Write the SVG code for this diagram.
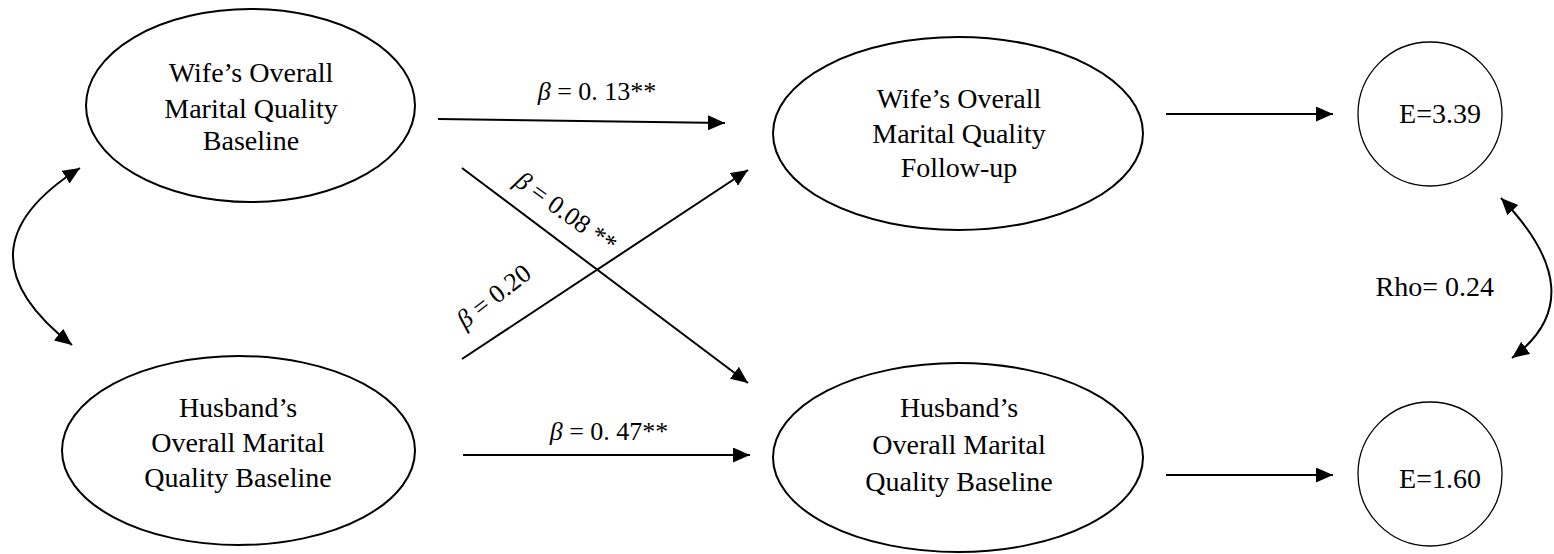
<svg xmlns="http://www.w3.org/2000/svg" width="1554" height="554" viewBox="0 0 1554 554">
<style>
  .node { fill: #fff; stroke: #000; stroke-width: 2; }
  .err { fill: #fff; stroke: #000; stroke-width: 1.3; }
  .lbl { font-family: "Liberation Serif", "DejaVu Serif", serif; font-size: 28px; fill: #000; text-anchor: middle; }
  .coef { font-family: "Liberation Serif", "DejaVu Serif", serif; font-size: 26px; fill: #000; text-anchor: middle; }
  .beta { font-style: italic; }
  .edge { fill: none; stroke: #000; stroke-width: 2; }
</style>
<defs>
  <marker id="arr" markerUnits="userSpaceOnUse" markerWidth="18" markerHeight="16" refX="17" refY="7.5" orient="auto-start-reverse">
    <path d="M0,0 L17,7.5 L0,15 z" fill="#000"/>
  </marker>
</defs>
<rect width="1554" height="554" fill="#fff"/>

<g id="connectors">
  <line class="edge" x1="438" y1="119" x2="725" y2="123" marker-end="url(#arr)"/>
  <line class="edge" x1="463" y1="455" x2="750" y2="455" marker-end="url(#arr)"/>
  <line class="edge" x1="462" y1="168" x2="748" y2="383" marker-end="url(#arr)"/>
  <line class="edge" x1="462" y1="359" x2="748" y2="170" marker-end="url(#arr)"/>
  <line class="edge" x1="1166" y1="114" x2="1333" y2="114" marker-end="url(#arr)"/>
  <line class="edge" x1="1166" y1="475" x2="1333" y2="475" marker-end="url(#arr)"/>
  <path class="edge" d="M80,168 Q-50,250 72,345" marker-start="url(#arr)" marker-end="url(#arr)"/>
  <path class="edge" d="M1501,198 Q1596,296 1512,358" marker-start="url(#arr)" marker-end="url(#arr)"/>
  <text class="coef" x="597" y="100"><tspan class="beta">β</tspan> = 0. 13**</text>
  <text class="coef" x="609" y="440"><tspan class="beta">β</tspan> = 0. 47**</text>
  <text class="coef" transform="translate(561,219) rotate(36)"><tspan class="beta">β</tspan> = 0.08 **</text>
  <text class="coef" transform="translate(499,303) rotate(-38)"><tspan class="beta">β</tspan> = 0.20</text>
  <text class="lbl" x="1494" y="296" text-anchor="end" style="text-anchor:end">Rho= 0.24</text>
</g>

<g id="wife-baseline">
  <ellipse class="node" cx="250.5" cy="105.5" rx="164.5" ry="96.5"/>
  <text class="lbl" x="251" y="82">Wife’s Overall</text>
  <text class="lbl" x="251" y="118">Marital Quality</text>
  <text class="lbl" x="251" y="150">Baseline</text>
</g>

<g id="husband-baseline">
  <ellipse class="node" cx="238.5" cy="450.5" rx="176.5" ry="94.5"/>
  <text class="lbl" x="238" y="417">Husband’s</text>
  <text class="lbl" x="238" y="452">Overall Marital</text>
  <text class="lbl" x="238" y="487">Quality Baseline</text>
</g>

<g id="wife-followup">
  <ellipse class="node" cx="958" cy="133.5" rx="185" ry="96.5"/>
  <text class="lbl" x="959" y="108">Wife’s Overall</text>
  <text class="lbl" x="959" y="143">Marital Quality</text>
  <text class="lbl" x="959" y="177">Follow-up</text>
</g>

<g id="husband-followup">
  <ellipse class="node" cx="958" cy="457.5" rx="185" ry="94.5"/>
  <text class="lbl" x="959" y="417">Husband’s</text>
  <text class="lbl" x="959" y="454">Overall Marital</text>
  <text class="lbl" x="959" y="491">Quality Baseline</text>
</g>

<g id="error-wife">
  <circle class="err" cx="1430" cy="114" r="72"/>
  <text class="lbl" x="1440" y="123">E=3.39</text>
</g>

<g id="error-husband">
  <circle class="err" cx="1430" cy="474" r="72"/>
  <text class="lbl" x="1440" y="488">E=1.60</text>
</g>
</svg>
